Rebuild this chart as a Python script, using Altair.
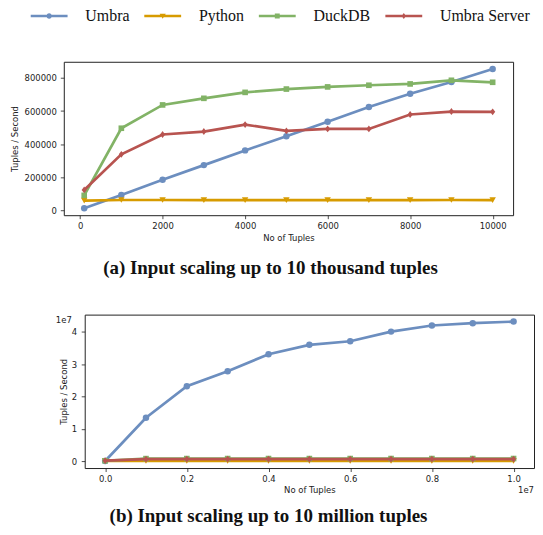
import altair as alt
import pandas as pd

series = ["Umbra", "Python", "DuckDB", "Umbra Server"]
colors = ["#6c8ebf", "#d79b00", "#82b366", "#b85450"]

# (a) up to 10 thousand tuples
x_small = [100, 1000, 2000, 3000, 4000, 5000, 6000, 7000, 8000, 9000, 10000]
umbra_small = [12000, 92000, 185000, 273000, 362000, 448000, 535000, 625000, 705000, 776000, 854000]
python_small = [58000, 62000, 62000, 61000, 61000, 61000, 61000, 61000, 61000, 62000, 61000]
duckdb_small = [90000, 496000, 637000, 677000, 713000, 733000, 746000, 756000, 764000, 786000, 774000]
server_small = [123000, 338000, 458000, 476000, 518000, 480000, 492000, 492000, 579000, 597000, 595000]

# (b) up to 10 million tuples
x_large = [100, 1000000, 2000000, 3000000, 4000000, 5000000, 6000000, 7000000, 8000000, 9000000, 10000000]
umbra_large = [12000, 13400000, 23200000, 27800000, 33100000, 36000000, 37100000, 40100000, 42000000, 42700000, 43200000]
python_large = [58000, 61000, 62000, 61000, 61000, 62000, 61000, 61000, 62000, 61000, 61000]
duckdb_large = [90000, 760000, 770000, 775000, 778000, 772000, 776000, 780000, 779000, 777000, 781000]
server_large = [123000, 598000, 605000, 610000, 612000, 608000, 615000, 611000, 613000, 610000, 612000]

x_ticks_small = [0, 2000, 4000, 6000, 8000, 10000]
y_ticks_small = [0, 200000, 400000, 600000, 800000]
x_ticks_large = [0, 2000000, 4000000, 6000000, 8000000, 10000000]
y_ticks_large = [0, 10000000, 20000000, 30000000, 40000000]

caption_a = "(a) Input scaling up to 10 thousand tuples"
caption_b = "(b) Input scaling up to 10 million tuples"
offset_label = ["1e7"]


def long_df(xs, cols):
    rows = []
    for s, vals in zip(series, cols):
        for x, v in zip(xs, vals):
            rows.append({"series": s, "n": x, "v": v})
    return pd.DataFrame(rows)


df_small = long_df(x_small, [umbra_small, python_small, duckdb_small, server_small])
df_large = long_df(x_large, [umbra_large, python_large, duckdb_large, server_large])

marker_shapes = ["circle", "triangle-down", "square", "M0,-1L0.75,0L0,1L-0.75,0Z"]
marker_sizes = [42, 42, 32, 48]

LINE = "M-3,-0.21L3,-0.21L3,0.21L-3,0.21Z "
R = 0.44
K = 0.2430
legend_paths = [
    LINE + (f"M{R},0C{R},{K} {K},{R} 0,{R}C-{K},{R} -{R},{K} -{R},0"
            f"C-{R},-{K} -{K},-{R} 0,-{R}C{K},-{R} {R},-{K} {R},0Z"),
    LINE + "M-0.5,-0.35L0.5,-0.35L0,0.45Z",
    LINE + "M-0.4,-0.4L0.4,-0.4L0.4,0.4L-0.4,0.4Z",
    LINE + "M0,-0.5L0.37,0L0,0.5L-0.37,0Z",
]

AX = dict(grid=False, domain=False, ticks=True, tickSize=3.5, tickColor="#222", tickWidth=0.8,
          labelFont="DejaVu Sans", labelFontSize=8.5, labelColor="#222",
          titleFont="DejaVu Sans", titleFontSize=8.5, titleFontWeight="normal", titleColor="#222",
          labelFlush=False, labelOverlap=False)


def make_axis(values, title, label_pad, title_pad, label_expr=None):
    kw = dict(AX, values=values, title=title, labelPadding=label_pad, titlePadding=title_pad)
    if label_expr:
        kw["labelExpr"] = label_expr
    else:
        kw["format"] = "d"
    return alt.Axis(**kw)


def series_layers(df, xdom, ydom, xaxis, yaxis):
    layers = []
    for s, c, shp, sz in zip(series, colors, marker_shapes, marker_sizes):
        base = alt.Chart(df).transform_filter(alt.datum.series == s).encode(
            x=alt.X("n:Q", scale=alt.Scale(domain=xdom, nice=False, zero=False), axis=xaxis),
            y=alt.Y("v:Q", scale=alt.Scale(domain=ydom, nice=False, zero=False), axis=yaxis),
        )
        layers.append(base.mark_line(color=c, strokeWidth=2.7))
        layers.append(base.mark_point(shape=shp, size=sz, filled=True, color=c, opacity=1))
    return layers


caption_style = dict(orient="bottom", anchor="middle", frame="group", font="Liberation Serif",
                     fontSize=19, fontWeight="bold", color="#111")

# ---- top panel
top_layers = series_layers(
    df_small, [-395, 10495], [-30000, 898000],
    make_axis(x_ticks_small, "No of Tuples", 3, 3),
    make_axis(y_ticks_small, "Tuples / Second", 4, 5),
)

leg = alt.Legend(title=None, orient="none", legendX=-22.7, legendY=-54, direction="horizontal",
                 columns=4, symbolSize=152, symbolStrokeWidth=0, symbolOpacity=1,
                 labelFont="Liberation Serif", labelFontSize=16, labelColor="#111",
                 labelOffset=28.3, columnPadding=14, padding=0, labelLimit=300)

legend_layer = alt.Chart(df_small).transform_filter("false").mark_point(filled=True, opacity=1).encode(
    color=alt.Color("series:N", scale=alt.Scale(domain=series, range=colors), legend=leg),
    shape=alt.Shape("series:N", scale=alt.Scale(domain=series, range=legend_paths), legend=leg),
)

top = alt.layer(*top_layers, legend_layer).properties(
    width=451, height=154, title=alt.TitleParams(caption_a, dx=-18, offset=18, **caption_style)
)

# ---- bottom panel
bottom_layers = series_layers(
    df_large, [-500000, 10500000], [-2160000, 45360000],
    make_axis(x_ticks_large, "No of Tuples", 3, 3, "format(datum.value / 1e7, '.1f')"),
    make_axis(y_ticks_large, "Tuples / Second", 4.5, 2.5, "format(datum.value / 1e7, 'd')"),
)
off_df = pd.DataFrame({"t": offset_label})
off_left = alt.Chart(off_df).mark_text(align="center", baseline="middle", font="DejaVu Sans",
                                        fontSize=8.5, color="#222").encode(
    text="t:N", x=alt.value(-21), y=alt.value(5))
off_right = alt.Chart(off_df).mark_text(align="right", baseline="middle", font="DejaVu Sans",
                                         fontSize=8.5, color="#222").encode(
    text="t:N", x=alt.value(451), y=alt.value(176))

bottom = alt.layer(*bottom_layers, off_left, off_right).properties(
    width=451, height=154, title=alt.TitleParams(caption_b, dx=-41, offset=13, **caption_style)
)

spacer = alt.Chart(pd.DataFrame({"a": [0]})).mark_point(opacity=0).properties(
    width=21, height=10, view=alt.ViewBackground(stroke=None))

row2 = alt.hconcat(spacer, bottom, spacing=0, bounds="flush")

chart = alt.vconcat(top, row2, spacing=34.8).resolve_scale(
    color="independent", shape="independent").resolve_legend(
    color="independent", shape="independent").properties(
    padding={"left": 1, "top": -2, "right": 0, "bottom": 0}, background="white"
).configure_view(stroke="#222", strokeWidth=1)

chart.save("out.html", embed_options={"renderer": "svg", "actions": False})
